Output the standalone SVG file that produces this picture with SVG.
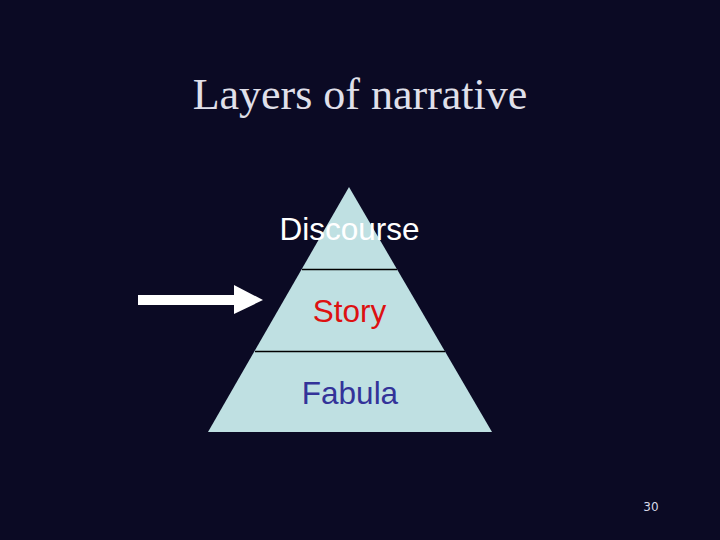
<svg xmlns="http://www.w3.org/2000/svg" width="720" height="540" viewBox="0 0 720 540">
<style>
.lbl{font-family:"Liberation Sans",Arial,sans-serif;font-size:31.5px;text-anchor:middle}
.div{stroke:#000;stroke-width:1.5}
</style>
<rect width="720" height="540" fill="#0b0a24"/>
<text x="360" y="109" font-family="'Liberation Serif','Times New Roman',serif" font-size="44" fill="#e0e0ea" text-anchor="middle">Layers of narrative</text>
<g id="pyramid">
<polygon points="349,187 492,432 208,432" fill="#bfe0e2"/>
<line class="div" x1="302" y1="269.5" x2="397" y2="269.5"/>
<line class="div" x1="255" y1="351.5" x2="445" y2="351.5"/>
</g>
<g id="discourse"><text class="lbl" x="349.5" y="240" fill="#ffffff">Discourse</text></g>
<g id="story"><text class="lbl" x="349.5" y="322" fill="#dd1111">Story</text></g>
<g id="fabula"><text class="lbl" x="350" y="404" fill="#333399">Fabula</text></g>
<g id="connectors">
<polygon points="138,295 234,295 234,285 263,300 234,314 234,305 138,305" fill="#ffffff"/>
</g>
<text x="651" y="511" font-family="'DejaVu Sans',sans-serif" font-size="12" fill="#d8d8e8" text-anchor="middle">30</text>
</svg>
